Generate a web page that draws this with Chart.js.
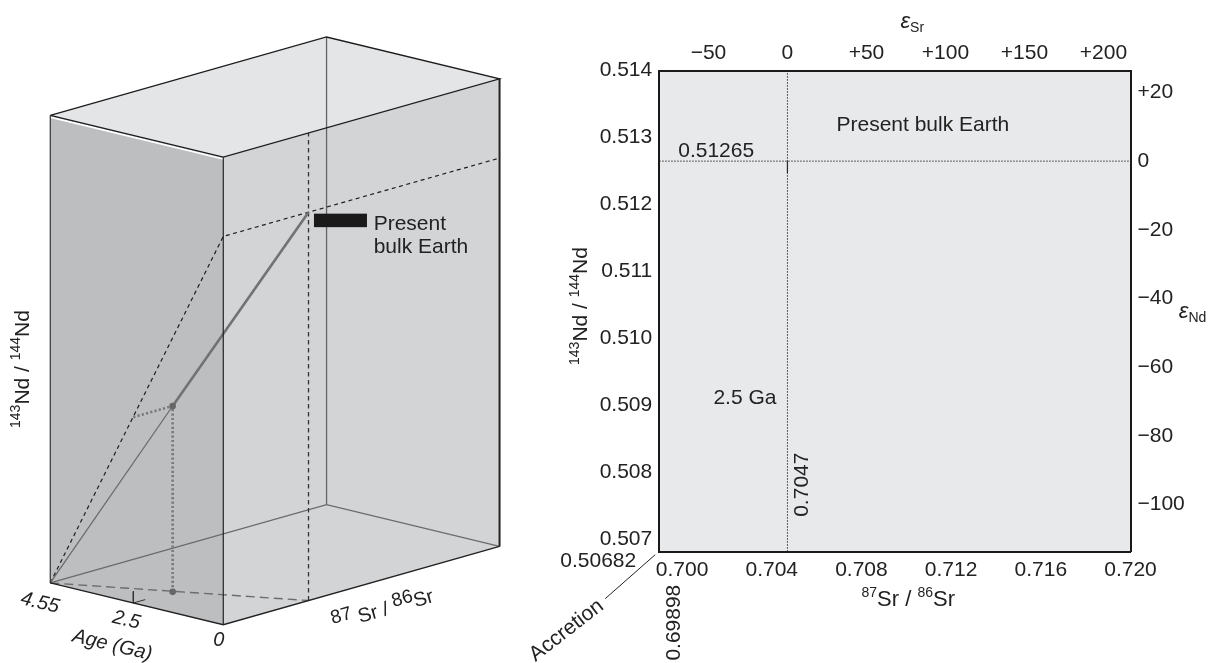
<!DOCTYPE html>
<html>
<head>
<meta charset="utf-8">
<script src="https://cdn.jsdelivr.net/npm/chart.js@4.4.1/dist/chart.umd.min.js"></script>
<style>
  html, body { margin: 0; padding: 0; background: #fff; }
  #wrap { position: relative; width: 1218px; height: 663px; overflow: hidden; }
  #wrap canvas { position: absolute; top: 0; }
  #cajaCanvas { left: 0; }
  #planoCanvas { left: 480px; }
</style>
</head>
<body>
<div id="wrap">
  <canvas id="cajaCanvas" width="520" height="663"></canvas>
  <canvas id="planoCanvas" width="738" height="663"></canvas>
</div>
<script>
const FONT = "'Liberation Sans', Arial, Helvetica, sans-serif";

// Caja 3D: edad (Ga), 87Sr/86Sr, 143Nd/144Nd
const boxAge = [4.55, 0];
const boxSr = [0.69898, 0.71752];
const boxNd = [0.50682, 0.51384];
const ageTicks = [4.55, 2.5, 0];

// Evolución de la Tierra global: acreción -> 2.5 Ga -> hoy
const evolAge = [4.55, 2.5, 0];
const evolSr = [0.69898, 0.70162, 0.7047];
const evolNd = [0.50682, 0.50961, 0.51265];

// Diagrama Sr-Nd
const srRange = [0.69898, 0.720];
const ndRange = [0.50682, 0.514];
const srTicks = [0.700, 0.704, 0.708, 0.712, 0.716, 0.720];
const ndTicks = [0.507, 0.508, 0.509, 0.510, 0.511, 0.512, 0.513, 0.514];
const epsSrTicks = [-50, 0, 50, 100, 150, 200];
const epsNdTicks = [20, 0, -20, -40, -60, -80, -100];
const bulkSr = 0.7047;
const bulkNd = 0.51265;

const epsSr = sr => (sr / bulkSr - 1) * 1e4;
const epsNd = nd => (nd / bulkNd - 1) * 1e4;

// Proyección oblicua de la caja (px del lienzo)
const proj = { ox: 222.7, oy: 628.3, ageV: [-175.7, -42.3], srV: [280.6, -79.3], ndV: [0, -473.3] };
const ageStops = [[0, 0], [2.5, 0.52], [4.55, 1]];

function ageFrac(a) {
    for (let i = 1; i < ageStops.length; i++) {
        const [a0, f0] = ageStops[i - 1];
        const [a1, f1] = ageStops[i];
        if (a <= a1) return f0 + (a - a0) / (a1 - a0) * (f1 - f0);
    }
    return 1;
}

function P(age, sr, nd) {
    const fa = ageFrac(age);
    const fs = (sr - boxSr[0]) / (boxSr[1] - boxSr[0]);
    const fn = (nd - boxNd[0]) / (boxNd[1] - boxNd[0]);
    return {
        x: proj.ox + proj.ageV[0] * fa + proj.srV[0] * fs + proj.ndV[0] * fn,
        y: proj.oy + proj.ageV[1] * fa + proj.srV[1] * fs + proj.ndV[1] * fn
    };
}

// Texto con superíndices / subíndices
function textoRico(ctx, partes, x, y, o) {
    const size = o.size || 20, supSize = o.supSize || 13, supShift = o.supShift || 7;
    const subSize = o.subSize || 14, subShift = o.subShift || 6;
    const fuente = (s, it) => (it ? 'italic ' : '') + s + 'px ' + FONT;
    ctx.save();
    ctx.translate(x, y);
    ctx.rotate(o.rot || 0);
    ctx.fillStyle = o.color || '#222';
    ctx.textBaseline = 'middle';
    ctx.textAlign = 'left';
    const medidas = partes.map(([t, tipo]) => {
        const s = tipo === 'sup' ? supSize : tipo === 'sub' ? subSize : size;
        const it = tipo === 'it' || o.italic;
        ctx.font = fuente(s, it);
        return { t, s, it, tipo, w: ctx.measureText(t).width };
    });
    const total = medidas.reduce((a, m) => a + m.w, 0);
    let cx = o.align === 'right' ? -total : o.align === 'left' ? 0 : -total / 2;
    medidas.forEach(m => {
        ctx.font = fuente(m.s, m.it);
        const dy = m.tipo === 'sup' ? -supShift : m.tipo === 'sub' ? subShift : 0;
        ctx.fillText(m.t, cx, dy);
        cx += m.w;
    });
    ctx.restore();
}

function linea(puntos, estilo) {
    return Object.assign({
        data: puntos, showLine: true, pointRadius: 0, borderWidth: 1,
        borderColor: '#222', fill: false, clip: false, tension: 0
    }, estilo);
}

function cara(puntos, color) {
    return linea(puntos, { fill: 'shape', backgroundColor: color, borderColor: 'rgba(0,0,0,0)', borderWidth: 1 });
}

// ---------- Panel izquierdo: caja 3D ----------
function crearCaja() {
    const [A, Z] = boxAge;
    const [s0, s1] = boxSr;
    const [n0, n1] = boxNd;
    const p25 = P(evolAge[1], evolSr[1], evolNd[1]);
    const pHoy = P(evolAge[2], evolSr[2], evolNd[2]);
    const pAcr = P(evolAge[0], evolSr[0], evolNd[0]);
    const tickAge = ageTicks[1];
    const dN = (n1 - n0) * 0.025;
    const dS = (s1 - s0) * 0.043;
    const brillo = [P(A, s0, n1), P(Z, s0, n1)].map(p => ({ x: p.x, y: p.y + 1.8 }));

    const capas = [
        cara([P(A, s0, n0), P(Z, s0, n0), P(Z, s0, n1), P(A, s0, n1)], '#bdbec0'),
        cara([P(Z, s0, n0), P(Z, s1, n0), P(Z, s1, n1), P(Z, s0, n1)], '#d3d4d6'),
        cara([P(A, s0, n1), P(A, s1, n1), P(Z, s1, n1), P(Z, s0, n1)], '#e4e5e7'),
        // aristas ocultas
        linea([P(A, s1, n0), P(A, s1, n1)], { borderColor: '#646464', borderWidth: 1.3 }),
        linea([P(A, s0, n0), P(A, s1, n0), P(Z, s1, n0)], { borderColor: '#6a6a6a', borderWidth: 1.2 }),
        // proyección Sr-edad
        linea([pAcr, P(Z, bulkSr, n0)], { borderColor: '#6d6d6d', borderWidth: 1.4, borderDash: [9, 5] }),
        // proyección Nd-edad y nivel actual
        linea([pAcr, P(Z, s0, bulkNd), P(Z, s1, bulkNd)], { borderColor: '#1e1e1e', borderWidth: 1.2, borderDash: [4, 3.5] }),
        linea([P(Z, bulkSr, n0), P(Z, bulkSr, n1)], { borderColor: '#333', borderWidth: 1.3, borderDash: [4.5, 3.5] }),
        // proyecciones del punto 2.5 Ga
        linea([P(evolAge[1], s0, evolNd[1]), p25, P(evolAge[1], evolSr[1], n0)], { borderColor: '#7a7a7a', borderWidth: 2.6, borderDash: [2.2, 2.2] }),
        // curva de evolución
        linea([pAcr, p25], { borderColor: '#6b6b6b', borderWidth: 1.3 }),
        linea([p25, pHoy], { borderColor: '#727272', borderWidth: 2.6 }),
        linea([p25, P(evolAge[1], evolSr[1], n0)], { showLine: false, pointRadius: 3.3, pointBackgroundColor: '#666', pointBorderWidth: 0 }),
        // marca 2.5 en el eje de edad
        linea([P(tickAge, s0, n0 + dN), P(tickAge, s0, n0), P(tickAge, s0 + dS, n0)], { borderColor: '#333', borderWidth: 1 }),
        linea(brillo, { borderColor: '#ffffff', borderWidth: 1.6 }),
        // aristas visibles
        linea([P(A, s0, n1), P(A, s1, n1), P(Z, s1, n1), P(Z, s0, n1), P(A, s0, n1)], { borderColor: '#1c1c1c', borderWidth: 1.3 }),
        linea([P(A, s0, n0), P(A, s0, n1)], { borderColor: '#333', borderWidth: 1.2 }),
        linea([P(Z, s0, n0), P(Z, s0, n1)], { borderColor: '#222', borderWidth: 1.2 }),
        linea([P(Z, s1, n0), P(Z, s1, n1)], { borderColor: '#222', borderWidth: 2 }),
        linea([P(A, s0, n0), P(Z, s0, n0), P(Z, s1, n0)], { borderColor: '#222', borderWidth: 1.3 })
    ];
    capas.forEach((d, i) => { d.order = capas.length - i; });

    const textosCaja = {
        id: 'textosCaja',
        afterDatasetsDraw(chart) {
            const ctx = chart.ctx;
            // rectángulo "Present bulk Earth"
            ctx.save();
            ctx.fillStyle = '#1a1a1a';
            ctx.fillRect(pHoy.x + 4.7, pHoy.y + 2.9, 53, 13.5);
            ctx.restore();
            textoRico(ctx, [['Present', 'n']], pHoy.x + 64.4, pHoy.y + 13.5, { size: 21, align: 'left' });
            textoRico(ctx, [['bulk Earth', 'n']], pHoy.x + 64.4, pHoy.y + 36, { size: 21, align: 'left' });

            textoRico(ctx, [['143', 'sup'], ['Nd / ', 'n'], ['144', 'sup'], ['Nd', 'n']], 23, 369,
                { size: 21, supSize: 14, supShift: 7, rot: -Math.PI / 2 });

            const rotEdad = Math.atan2(-proj.ageV[1], -proj.ageV[0]);
            const rotSr = Math.atan2(proj.srV[1], proj.srV[0]);
            const pA = P(ageTicks[0], s0, n0), pM = P(ageTicks[1], s0, n0), pZ = P(ageTicks[2], s0, n0);
            textoRico(ctx, [['4.55', 'n']], pA.x - 7, pA.y + 17, { size: 20, italic: true, rot: rotEdad });
            textoRico(ctx, [['2.5', 'n']], pM.x - 5, pM.y + 14, { size: 20, italic: true, rot: rotEdad });
            textoRico(ctx, [['Age (Ga)', 'n']], pM.x - 19, pM.y + 39, { size: 20, italic: true, rot: rotEdad });
            textoRico(ctx, [['0', 'n']], pZ.x - 4, pZ.y + 12, { size: 20, italic: true });
            const pS = P(Z, (s0 + s1) / 2, n0);
            textoRico(ctx, [['87', 'sup'], [' Sr / ', 'n'], ['86', 'sup'], ['Sr', 'n']], pS.x + 20, pS.y + 22,
                { size: 20, supSize: 19, supShift: 6, rot: rotSr });
        }
    };

    return new Chart(document.getElementById('cajaCanvas'), {
        type: 'line',
        data: { datasets: capas },
        options: {
            responsive: false,
            animation: false,
            devicePixelRatio: 1,
            events: [],
            layout: { padding: 0 },
            plugins: { legend: { display: false }, tooltip: { enabled: false } },
            scales: {
                x: { type: 'linear', display: false, min: 0, max: 520 },
                y: { type: 'linear', display: false, min: 0, max: 663, reverse: true }
            }
        },
        plugins: [textosCaja]
    });
}

// ---------- Panel derecho: 143Nd/144Nd vs 87Sr/86Sr ----------
function crearPlano() {
    const fuenteTicks = { family: FONT, size: 21 };
    const signo = v => v > 0 ? '+' + v : v < 0 ? '\u2212' + Math.abs(v) : '0';
    const fijar = (valores, tam) => ({
        afterBuildTicks: s => { s.ticks = valores.map(v => ({ value: v })); },
        afterFit: s => { if (s.isHorizontal()) s.height = tam; else s.width = tam; }
    });
    const ejeBase = {
        type: 'linear',
        grid: { display: false, drawTicks: false },
        border: { display: true, color: '#1a1a1a', width: 2, z: 1 }
    };

    const fondo = {
        id: 'fondo',
        beforeDraw(chart) {
            const a = chart.chartArea;
            chart.ctx.save();
            chart.ctx.fillStyle = '#e8e9eb';
            chart.ctx.fillRect(a.left, a.top, a.right - a.left, a.bottom - a.top);
            chart.ctx.restore();
        }
    };

    const notas = {
        id: 'notas',
        afterDraw(chart) {
            const ctx = chart.ctx;
            const a = chart.chartArea;
            const xs = v => chart.scales.x.getPixelForValue(v);
            const ys = v => chart.scales.y.getPixelForValue(v);
            const o = { size: 21 };
            textoRico(ctx, [['0.51265', 'n']], xs(srRange[0]) + 19, ys(bulkNd) - 10, Object.assign({ align: 'left' }, o));
            textoRico(ctx, [['Present bulk Earth', 'n']], xs(bulkSr) + 49, ys(bulkNd) - 36, Object.assign({ align: 'left' }, o));
            textoRico(ctx, [['2.5 Ga', 'n']], xs(bulkSr) - 11, ys(0.509) - 7, Object.assign({ align: 'right' }, o));
            textoRico(ctx, [['0.7047', 'n']], xs(bulkSr) + 15, a.bottom - 67, Object.assign({ rot: -Math.PI / 2 }, o));
            textoRico(ctx, [['0.50682', 'n']], a.left - 23, a.bottom + 10, Object.assign({ align: 'right' }, o));
            textoRico(ctx, [['0.69898', 'n']], a.left + 15, a.bottom + 33, Object.assign({ align: 'right', rot: -Math.PI / 2 }, o));
            textoRico(ctx, [['Accretion', 'n']], a.left - 58, a.bottom + 52, Object.assign({ align: 'right', rot: -0.66 }, o));
            ctx.save();
            ctx.strokeStyle = '#222';
            ctx.lineWidth = 1;
            ctx.beginPath();
            ctx.moveTo(a.left - 54, a.bottom + 47);
            ctx.lineTo(a.left - 4, a.bottom + 3);
            ctx.stroke();
            ctx.restore();

            // títulos de ejes
            textoRico(ctx, [['143', 'sup'], ['Nd / ', 'n'], ['144', 'sup'], ['Nd', 'n']], a.left - 77.5, 306,
                { size: 21, supSize: 14, supShift: 7, rot: -Math.PI / 2 });
            textoRico(ctx, [['87', 'sup'], ['Sr / ', 'n'], ['86', 'sup'], ['Sr', 'n']], xs(0.710) + 2, a.bottom + 48,
                { size: 22, supSize: 14, supShift: 7 });
            textoRico(ctx, [['\u03b5', 'it'], ['Sr', 'sub']], xs(0.710) + 6, 22, { size: 22, subSize: 14, subShift: 6 });
            textoRico(ctx, [['\u03b5', 'it'], ['Nd', 'sub']], a.right + 62, 312, { size: 22, subSize: 14, subShift: 6 });
        }
    };

    return new Chart(document.getElementById('planoCanvas'), {
        type: 'line',
        data: {
            datasets: [
                linea([{ x: bulkSr, y: ndRange[0] }, { x: bulkSr, y: ndRange[1] }], { borderColor: '#333', borderWidth: 1, borderDash: [1.5, 1.5], clip: 0 }),
                linea([{ x: srRange[0], y: bulkNd }, { x: srRange[1], y: bulkNd }], { borderColor: '#333', borderWidth: 1, borderDash: [1.5, 1.5], clip: 0 }),
                linea([{ x: bulkSr, y: bulkNd }, { x: bulkSr, y: bulkNd - 0.00018 }], { borderColor: '#222', borderWidth: 1.2, clip: 0 })
            ]
        },
        options: {
            responsive: false,
            animation: false,
            devicePixelRatio: 1,
            events: [],
            layout: { padding: 0 },
            plugins: { legend: { display: false }, tooltip: { enabled: false } },
            scales: {
                x: Object.assign({}, ejeBase, fijar(srTicks, 111.3), {
                    position: 'bottom', min: srRange[0], max: srRange[1],
                    ticks: { font: fuenteTicks, color: '#222', padding: 6, maxRotation: 0, autoSkip: false, callback: v => v.toFixed(3) }
                }),
                y: Object.assign({}, ejeBase, fijar(ndTicks, 179.2), {
                    position: 'left', min: ndRange[0], max: ndRange[1],
                    ticks: { font: fuenteTicks, color: '#222', padding: 7, autoSkip: false, callback: v => v.toFixed(3) }
                }),
                x2: Object.assign({}, ejeBase, fijar(epsSrTicks, 70.7), {
                    axis: 'x', position: 'top', min: epsSr(srRange[0]), max: epsSr(srRange[1]),
                    ticks: { font: fuenteTicks, color: '#222', padding: 5, maxRotation: 0, autoSkip: false, callback: signo }
                }),
                y2: Object.assign({}, ejeBase, fijar(epsNdTicks, 87.5), {
                    axis: 'y', position: 'right', min: epsNd(ndRange[0]), max: epsNd(ndRange[1]),
                    ticks: { font: fuenteTicks, color: '#222', padding: 7, autoSkip: false, callback: signo }
                })
            }
        },
        plugins: [fondo, notas]
    });
}

document.addEventListener('DOMContentLoaded', function () {
    crearCaja();
    crearPlano();
});
</script>
</body>
</html>
